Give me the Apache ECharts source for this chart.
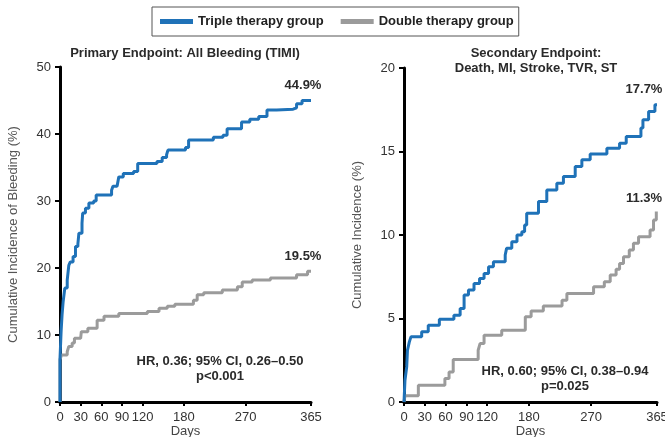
<!DOCTYPE html>
<html>
<head>
<meta charset="utf-8">
<script src="https://cdn.jsdelivr.net/npm/echarts@6/dist/echarts.min.js"></script>
<style>
  html, body { margin: 0; padding: 0; background: #fff; }
  #main { width: 665px; height: 437px; }
</style>
</head>
<body>
<div id="main"></div>
<script>
// days shown on the x axis
var dayTicks = [0, 30, 60, 90, 120, 180, 270, 365];

// primary endpoint: all bleeding (TIMI), [day, cumulative %]
var bleedTriple = [[0,0],[0,6.5],[1,9],[1.7,10.7],[3,13],[4.6,15],[7,17],[10.5,18.2],[12.8,20.4],[15,20.9],
  [19,21.7],[22.5,23.2],[26,23.6],[27.5,25.2],[32,26.7],[33,28.2],[37,28.9],[42,29.7],[49,30.0],[52.6,30.9],
  [75,31.6],[77,32.2],[83,32.4],[85.5,33.6],[92,34.1],[107,34.4],[113,35.6],[141,35.9],[148.6,36.5],[155,36.9],
  [157,37.6],[182.5,38.0],[187,39.1],[223,39.5],[237,39.8],[243,40.8],[264,41.8],[276,42.2],[289,42.6],
  [301,43.6],[315,43.7],[339,43.9],[344,44.5],[352,45.0],[365,45.0]];
var bleedDouble = [[0,0],[0,6.3],[2,7.0],[10.5,7.5],[12.8,8.3],[17.7,8.8],[21,9.5],[30,9.7],[31,10.5],
  [40.5,11.0],[54,12.2],[64,12.8],[85.5,13.2],[127,13.5],[144,14.0],[156,14.3],[167,14.6],[194,15.2],
  [199.5,16.0],[209,16.3],[236,16.7],[258,17.2],[265,17.9],[279.5,18.2],[306,18.5],[344,19.0],[360,19.5],[365,19.5]];

// secondary endpoint: death, MI, stroke, TVR, ST
var secTriple = [[0,0],[1.4,0],[1.4,1.3],[3.9,2.1],[5,3.1],[7.7,3.6],[10,3.9],[25.5,4.2],[35,4.6],[51,4.95],
  [72,5.2],[81,5.6],[86.7,6.4],[93,6.7],[101,7.1],[109,7.4],[115.5,7.7],[122,8.1],[129,8.4],[146,8.8],
  [148,9.2],[155.5,9.6],[163,10.0],[170,10.2],[174,10.6],[177,11.3],[194,12.0],[206,12.7],[220.5,13.1],
  [230,13.5],[247,14.1],[256.6,14.5],[268.6,14.85],[292.7,15.2],[311,15.5],[320.6,15.9],[341.8,16.4],
  [344.7,16.9],[352.9,17.4],[362,17.8],[365,17.8]];
var secDouble = [[0,0],[1.4,0],[1.4,0.38],[20.7,1.0],[59,1.4],[65,1.8],[71,2.55],[107,3.1],[109.7,3.5],
  [115.5,4.0],[141,4.3],[175,5.1],[183.4,5.45],[201,5.75],[228,6.1],[235,6.5],[273.5,6.9],[289,7.2],
  [297.5,7.6],[306,7.95],[311,8.3],[316.7,8.7],[325,9.1],[331,9.5],[338.4,9.9],[355,10.3],[360,10.9],
  [364,11.4],[365,11.4]];

var groupNames = ['Triple therapy group', 'Double therapy group'];
var blue = '#1f72b8';
var gray = '#9b9b9b';
var font = 'Liberation Sans, Arial, sans-serif';

function xAxisOf(idx){
  return {
    type: 'value', gridIndex: idx, min: 0, max: 365,
    name: 'Days', nameLocation: 'middle', nameGap: 23, nameMoveOverlap: false,
    nameTextStyle: { fontSize: 13, color: '#444', fontFamily: font },
    axisLine: { lineStyle: { color: '#000', width: 3 } },
    axisTick: { show: true, customValues: dayTicks, length: 4, lineStyle: { color: '#000', width: 2 } },
    axisLabel: { customValues: dayTicks, fontSize: 13, color: '#333', fontFamily: font, margin: 9 },
    splitLine: { show: false }
  };
}
function yAxisOf(idx, max, step, label){
  return {
    type: 'value', gridIndex: idx, min: 0, max: max, interval: step,
    name: label, nameLocation: 'middle', nameGap: 40, nameMoveOverlap: false,
    nameTextStyle: { fontSize: 13, color: '#555', fontFamily: font },
    axisLine: { show: true, lineStyle: { color: '#000', width: 3 } },
    axisTick: { show: true, length: 5, lineStyle: { color: '#000', width: 2 } },
    axisLabel: { fontSize: 13, color: '#333', fontFamily: font, margin: 9 },
    splitLine: { show: false }
  };
}
function curve(name, data, color, idx){
  return {
    name: name, type: 'line', step: 'end', data: data,
    xAxisIndex: idx, yAxisIndex: idx, showSymbol: false, symbol: 'none',
    lineStyle: { color: color, width: 3 }, itemStyle: { color: color },
    animation: false, silent: true
  };
}
function note(x, y, txt){
  return { type: 'text', x: x, y: y,
    style: { text: txt, fill: '#2a2a2a', font: 'bold 13px ' + font, textAlign: 'center', textVerticalAlign: 'middle', lineHeight: 15 } };
}

var chart = echarts.init(document.getElementById('main'), null, { renderer: 'canvas' });
var option = {
  animation: false,
  backgroundColor: '#fff',
  legend: {
    data: groupNames, left: 152, top: 7, orient: 'horizontal',
    icon: 'rect', itemWidth: 33, itemHeight: 5, itemGap: 17,
    padding: [8, 5, 8, 8], borderColor: '#555', borderWidth: 1,
    textStyle: { fontSize: 13, fontWeight: 'bold', color: '#222', fontFamily: font }
  },
  grid: [
    { left: 60, right: 354, top: 67, bottom: 35, outerBoundsMode: 'none' },
    { left: 404, right: 8, top: 68, bottom: 35, outerBoundsMode: 'none' }
  ],
  xAxis: [xAxisOf(0), xAxisOf(1)],
  yAxis: [
    yAxisOf(0, 50, 10, 'Cumulative Incidence of Bleeding (%)'),
    yAxisOf(1, 20, 5, 'Cumulative Incidence (%)')
  ],
  series: [
    curve(groupNames[1], bleedDouble, gray, 0),
    curve(groupNames[0], bleedTriple, blue, 0),
    curve(groupNames[1], secDouble, gray, 1),
    curve(groupNames[0], secTriple, blue, 1)
  ],
  graphic: [
    note(185, 53, 'Primary Endpoint: All Bleeding (TIMI)'),
    note(536, 61, 'Secondary Endpoint:\nDeath, MI, Stroke, TVR, ST'),
    note(303, 85, '44.9%'),
    note(303, 256, '19.5%'),
    note(220, 369, 'HR, 0.36; 95% CI, 0.26\u20130.50\np<0.001'),
    note(644, 89, '17.7%'),
    note(644, 198, '11.3%'),
    note(565, 379, 'HR, 0.60; 95% CI, 0.38\u20130.94\np=0.025')
  ]
};
chart.setOption(option);
</script>
</body>
</html>
